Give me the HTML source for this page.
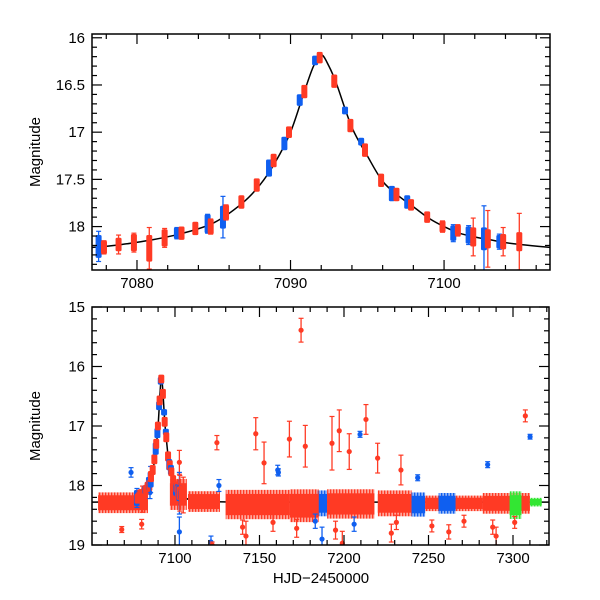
<!DOCTYPE html>
<html><head><meta charset="utf-8"><style>
html,body{margin:0;padding:0;background:#fff;}
svg{display:block;font-family:"Liberation Sans",Arial,sans-serif;}
</style></head><body>
<svg id="chart" width="600" height="600" viewBox="0 0 600 600" xmlns="http://www.w3.org/2000/svg">
<defs>
<clipPath id="clipTop"><rect x="92" y="34" width="458" height="236"/></clipPath>
<clipPath id="clipBot"><rect x="92" y="307" width="457" height="238"/></clipPath>
<pattern id="stripeR" width="3" height="4" patternUnits="userSpaceOnUse"><rect width="3" height="4" fill="#ff3a24" opacity="0.45"/><rect width="1.3" height="4" fill="#ff3a24"/></pattern>
<pattern id="stripeB" width="3" height="4" patternUnits="userSpaceOnUse"><rect width="3" height="4" fill="#0f5ff0" opacity="0.45"/><rect width="1.3" height="4" fill="#0f5ff0"/></pattern>
<pattern id="stripeG" width="3" height="4" patternUnits="userSpaceOnUse"><rect width="3" height="4" fill="#33e633" opacity="0.45"/><rect width="1.3" height="4" fill="#33e633"/></pattern>
</defs>
<g id="top"></g>
<g id="bot"></g>
</svg>
<script>
// ---- event cluster data (shared by both panels) ----
const clusterT = [7077.5,7077.85,7078.8,7079.8,7080.8,7081.8,7082.6,7082.9,7083.8,7084.6,7084.8,7085.6,7085.8,7086.8,7087.8,7088.6,7088.9,7089.6,7089.9,7090.6,7090.9,7091.6,7091.9,7092.85,7093.55,7093.9,7094.6,7094.85,7095.9,7096.6,7096.9,7097.6,7097.85,7098.9,7099.9,7100.6,7100.9,7101.6,7101.9,7102.6,7102.85,7103.6,7103.85,7104.9];
const clusterMag = [18.21,18.22,18.19,18.17,18.23,18.12,18.07,18.07,18.02,17.97,18.0,17.9,17.85,17.74,17.56,17.38,17.3,17.12,17.0,16.66,16.57,16.24,16.21,16.46,16.77,16.93,17.1,17.19,17.51,17.65,17.66,17.74,17.77,17.9,18.0,18.07,18.04,18.09,18.11,18.13,18.13,18.16,18.16,18.16];
const clusterSpread = [0.1,0.05,0.05,0.07,0.12,0.07,0.04,0.05,0.05,0.08,0.06,0.1,0.06,0.05,0.05,0.07,0.05,0.05,0.04,0.04,0.05,0.03,0.04,0.05,0.02,0.05,0.02,0.05,0.05,0.06,0.05,0.05,0.04,0.04,0.04,0.06,0.04,0.07,0.08,0.1,0.08,0.05,0.06,0.08];
const clusterErr = [0.16,0.07,0.1,0.1,0.22,0.1,0.06,0.06,0.06,0.1,0.08,0.22,0.08,0.06,0.05,0.08,0.06,0.06,0.05,0.05,0.05,0.04,0.05,0.05,0.03,0.05,0.03,0.05,0.06,0.07,0.06,0.06,0.05,0.05,0.06,0.09,0.06,0.1,0.2,0.35,0.3,0.08,0.15,0.3];
const clusterColor = ["b","r","r","r","r","r","b","r","r","b","r","b","r","r","r","b","r","b","r","b","r","b","r","r","b","r","b","r","r","b","r","b","r","r","r","b","r","b","r","b","r","b","r","r"];
// ---- model curve ----
const modelT = [7050,7065,7077.07,7079,7081,7083,7085,7086.8,7088,7089,7090,7090.9,7091.5,7092,7092.5,7093,7094,7095,7096,7097,7098,7099,7100,7101,7102,7103,7104,7105,7106.9,7110,7120,7140,7170,7220,7270,7325];
const modelMag = [18.28,18.27,18.22,18.19,18.14,18.07,17.96,17.76,17.56,17.32,17.0,16.57,16.3,16.18,16.3,16.49,16.95,17.25,17.52,17.67,17.79,17.91,18.0,18.07,18.11,18.14,18.17,18.19,18.22,18.25,18.27,18.28,18.28,18.28,18.28,18.28];
// ---- bottom panel baseline bands ----
const bandStart = [7054.5,7097,7107.7,7130,7184,7168,7190,7220,7240,7248,7256,7282,7298,7310];
const bandEnd =   [7084,7107,7126.6,7168,7190,7185,7218,7240,7248,7282,7266,7310,7305,7317];
const bandMag =   [18.29,18.15,18.27,18.32,18.3,18.34,18.31,18.3,18.32,18.3,18.3,18.3,18.33,18.28];
const bandHalf =  [0.12,0.18,0.12,0.17,0.15,0.19,0.17,0.15,0.14,0.09,0.12,0.12,0.16,0.05];
const bandColor = ["r","r","r","r","b","r","r","r","b","r","b","r","g","g"];
// ---- bottom panel outliers ----
const outT =   [7074,7068.5,7080.3,7085.2,7102.6,7102.6,7124.8,7126,7147.8,7152.7,7167.7,7161.2,7174.6,7177.1,7192.9,7197.2,7203.1,7209.5,7213,7219.9,7160.8,7233.7,7243.6,7285,7307.3,7310.1,7121.3,7122,7199,7142,7187,7228,7262,7290,7140,7158,7172,7183,7195,7206,7231,7252,7271,7288,7301];
const outMag = [17.78,18.74,18.65,18.12,18.78,17.61,17.28,18.0,17.13,17.62,17.22,17.78,15.39,17.34,17.29,17.08,17.43,17.14,16.89,17.54,17.74,17.74,17.87,17.65,16.83,17.18,18.95,19.0,18.97,18.85,18.9,18.8,18.78,18.85,18.7,18.62,18.72,18.6,18.75,18.65,18.62,18.68,18.6,18.7,18.62];
const outErr = [0.08,0.05,0.08,0.1,0.25,0.2,0.12,0.1,0.27,0.35,0.3,0.06,0.2,0.35,0.45,0.35,0.3,0.05,0.25,0.25,0.08,0.25,0.05,0.05,0.1,0.04,0.1,0.05,0.2,0.25,0.2,0.15,0.12,0.15,0.12,0.15,0.15,0.12,0.15,0.12,0.12,0.1,0.1,0.12,0.1];
const outColor = ["b","r","r","b","b","r","r","b","r","r","r","b","r","r","r","r","r","b","r","r","b","r","b","b","r","b","b","r","r","r","b","r","r","r","r","r","r","b","r","b","r","r","r","r","r"];
// ---- tick labels ----
const topXTicks = [7080,7090,7100];
const topYTicks = [16,16.5,17,17.5,18];
const botXTicks = [7100,7150,7200,7250,7300];
const botYTicks = [15,16,17,18,19];

const NS = "http://www.w3.org/2000/svg";
const COL = {r:"#ff3a24", b:"#0f5ff0", g:"#33e633"};
const PAT = {r:"url(#stripeR)", b:"url(#stripeB)", g:"url(#stripeG)"};
function el(tag, attrs, parent){const e=document.createElementNS(NS,tag);for(const k in attrs)e.setAttribute(k,attrs[k]);parent.appendChild(e);return e;}

const P = {
  top:{x0:92,x1:550,y0:34,y1:270,t0:7077.07,t1:7106.9,m0:15.96,m1:18.46,minX:2,majX:10,minY:0.1,majY:0.5,xt:topXTicks,yt:topYTicks,clip:"clipTop",cw:6,g:document.getElementById("top")},
  bot:{x0:92,x1:549,y0:307,y1:545,t0:7050.9,t1:7321.3,m0:15,m1:19,minX:10,majX:50,minY:0.2,majY:1,xt:botXTicks,yt:botYTicks,clip:"clipBot",cw:6,g:document.getElementById("bot")}
};
function xs(p,t){return p.x0+(t-p.t0)/(p.t1-p.t0)*(p.x1-p.x0);}
function ys(p,m){return p.y0+(m-p.m0)/(p.m1-p.m0)*(p.y1-p.y0);}

function smoothPath(p){
  const pts=modelT.map((t,i)=>[xs(p,t),ys(p,modelMag[i])]);
  let d="M"+pts[0][0].toFixed(2)+","+pts[0][1].toFixed(2);
  for(let i=0;i<pts.length-1;i++){
    const p0=pts[Math.max(0,i-1)],p1=pts[i],p2=pts[i+1],p3=pts[Math.min(pts.length-1,i+2)];
    const seg=p2[0]-p1[0];
    let t1x=(p2[0]-p0[0])/6, t1y=(p2[1]-p0[1])/6, t2x=(p3[0]-p1[0])/6, t2y=(p3[1]-p1[1])/6;
    if(t1x>seg/2){const s=seg/2/t1x;t1x*=s;t1y*=s;}
    if(t2x>seg/2){const s=seg/2/t2x;t2x*=s;t2y*=s;}
    d+=" C"+(p1[0]+t1x).toFixed(2)+","+(p1[1]+t1y).toFixed(2)+" "+(p2[0]-t2x).toFixed(2)+","+(p2[1]-t2y).toFixed(2)+" "+p2[0].toFixed(2)+","+p2[1].toFixed(2);
  }
  return d;
}

function errBar(g,x,yLo,yHi,c,w){
  el("line",{x1:x,x2:x,y1:yLo,y2:yHi,stroke:c,"stroke-width":1.3},g);
  el("line",{x1:x-w,x2:x+w,y1:yLo,y2:yLo,stroke:c,"stroke-width":1.2},g);
  el("line",{x1:x-w,x2:x+w,y1:yHi,y2:yHi,stroke:c,"stroke-width":1.2},g);
}

function drawPanel(key){
  const p=P[key], g=p.g;
  const data=el("g",{"clip-path":"url(#"+p.clip+")"},g);
  
  
  const model=el("path",{d:smoothPath(p),fill:"none",stroke:"#000","stroke-width":1.5},data);
  
  
  if(key==="bot"){
    bandStart.forEach((s,i)=>{
      const x=xs(p,s), w=Math.max(2,xs(p,bandEnd[i])-x);
      const yc=ys(p,bandMag[i]), h=ys(p,bandMag[i]+bandHalf[i])-yc;
      const e=el("rect",{x:x,y:yc-h*1.45,width:w,height:2.9*h,fill:PAT[bandColor[i]]},data);
      
      
      const r=el("rect",{x:x,y:yc-h*1.05,width:w,height:2.1*h,fill:COL[bandColor[i]]},data);
      
      
    });
    outT.forEach((t,i)=>{
      const x=xs(p,t), yc=ys(p,outMag[i]);
      const grp=el("g",{},data);
      
      
      errBar(grp,x,ys(p,outMag[i]-outErr[i]),ys(p,outMag[i]+outErr[i]),COL[outColor[i]],2.5);
      el("circle",{cx:x,cy:yc,r:2.6,fill:COL[outColor[i]]},grp);
    });
  }
  clusterT.forEach((t,i)=>{
    const x=xs(p,t), c=COL[clusterColor[i]];
    const grp=el("g",{},data);
    
    
    errBar(grp,x,ys(p,clusterMag[i]-clusterErr[i]),ys(p,clusterMag[i]+clusterErr[i]),c,2.5);
    const y1=ys(p,clusterMag[i]-clusterSpread[i]), y2=ys(p,clusterMag[i]+clusterSpread[i]);
    el("rect",{x:x-p.cw/2,y:y1-2,width:p.cw,height:Math.max(4,y2-y1+4),rx:1.5,fill:c},grp);
  });
  const fr=el("rect",{x:p.x0,y:p.y0,width:p.x1-p.x0,height:p.y1-p.y0,fill:"none",stroke:"#000","stroke-width":1.5},g);
  
  
  const tk=el("g",{stroke:"#000","stroke-width":1.2},g);
  
  
  const n0=Math.ceil(p.t0/p.minX), n1=Math.floor(p.t1/p.minX);
  for(let n=n0;n<=n1;n++){const t=n*p.minX,x=xs(p,t);const major=Math.abs(t/p.majX-Math.round(t/p.majX))<1e-6;const L=major?10:5;
    el("line",{x1:x,x2:x,y1:p.y1,y2:p.y1-L},tk);el("line",{x1:x,x2:x,y1:p.y0,y2:p.y0+L},tk);}
  const m0=Math.ceil(p.m0/p.minY-1e-6), m1=Math.floor(p.m1/p.minY+1e-6);
  for(let n=m0;n<=m1;n++){const m=n*p.minY,y=ys(p,m);const major=Math.abs(m/p.majY-Math.round(m/p.majY))<1e-6;const L=major?10:5;
    if(y<p.y0-0.5||y>p.y1+0.5)continue;
    el("line",{x1:p.x0,x2:p.x0+L,y1:y,y2:y},tk);el("line",{x1:p.x1,x2:p.x1-L,y1:y,y2:y},tk);}
  p.xt.forEach(t=>{const tx=el("text",{x:xs(p,t),y:p.y1+18,"text-anchor":"middle","font-size":15,fill:"#000"},g);tx.textContent=String(t);
    
    });
  p.yt.forEach(m=>{const tx=el("text",{x:p.x0-7,y:ys(p,m)+5,"text-anchor":"end","font-size":15,fill:"#000"},g);tx.textContent=String(m);
    
    });
  const yl=el("text",{x:0,y:0,"text-anchor":"middle","font-size":15,fill:"#000",transform:"translate(40,"+((p.y0+p.y1)/2)+") rotate(-90)"},g);
  yl.textContent="Magnitude";
  
  
}
drawPanel("top");
drawPanel("bot");
const xl=el("text",{x:321,y:583,"text-anchor":"middle","font-size":15,fill:"#000"},document.getElementById("bot"));
xl.textContent="HJD\u22122450000";


</script>
</body></html>
